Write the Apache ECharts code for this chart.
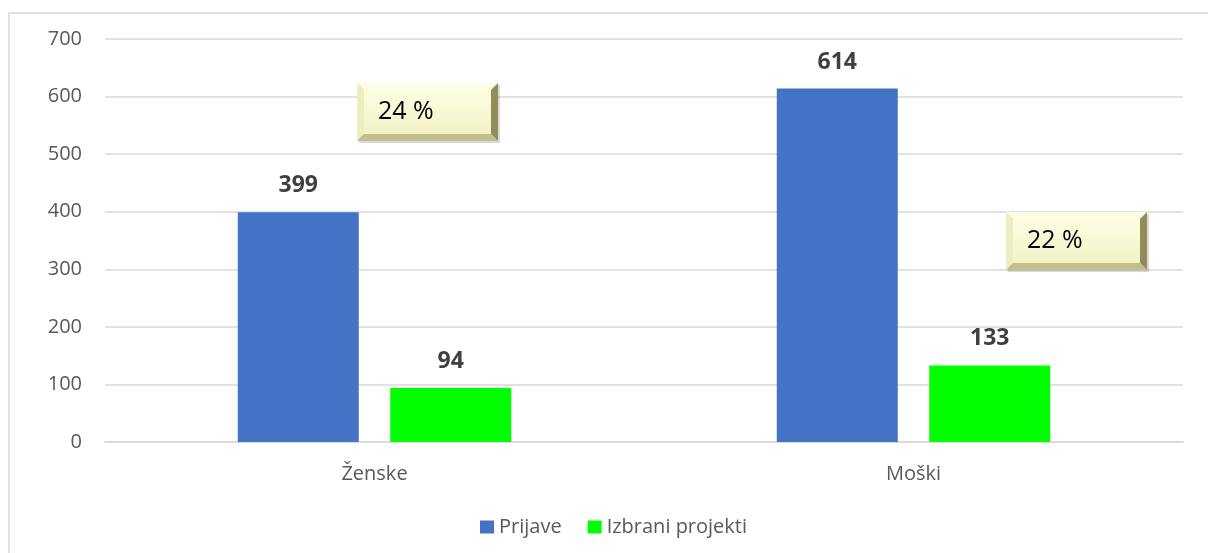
<!DOCTYPE html>
<html>
<head>
<meta charset="utf-8">
<script src="https://cdn.jsdelivr.net/npm/echarts@6/dist/echarts.min.js"></script>
<style>
  html, body { margin: 0; padding: 0; background: #fff; }
  #chart { width: 1208px; height: 553px; }
</style>
</head>
<body>
<div id="chart"></div>
<script>
const categories = ["Ženske", "Moški"];
const prijave = [399, 614];
const izbrani = [94, 133];
const shareLabels = ["24 %", "22 %"];
// where each share box sits: value on the y axis and x shift from the category centre
const shareAnchorY = [573, 349];
const shareShiftX = [53, 163];

const font = "Open Sans";

const chartDom = document.getElementById("chart");
const myChart = echarts.init(chartDom);

const valueLabel = {
  show: true,
  position: "top",
  distance: 15,
  fontFamily: font,
  fontSize: 23,
  fontWeight: "bold",
  color: "#404040",
};

const option = {
  animation: false,
  textStyle: { fontFamily: font },
  grid: { left: 105, right: 25, top: 39, bottom: 111, containLabel: false },
  legend: {
    top: 512,
    left: 475,
    icon: "rect",
    itemWidth: 14,
    itemHeight: 13,
    itemGap: 26,
    textStyle: { fontFamily: font, fontSize: 20, color: "#595959" },
    data: ["Prijave", "Izbrani projekti"],
  },
  xAxis: {
    type: "category",
    data: categories,
    axisLine: { lineStyle: { color: "#d9d9d9", width: 1.5 } },
    axisTick: { show: false },
    axisLabel: { fontFamily: font, fontSize: 20, color: "#595959", margin: 22 },
  },
  yAxis: {
    type: "value",
    min: 0,
    max: 700,
    interval: 100,
    axisLine: { show: false },
    axisTick: { show: false },
    axisLabel: { fontFamily: font, fontSize: 20, color: "#595959", margin: 23 },
    splitLine: { lineStyle: { color: "#d9d9d9", width: 1.5 } },
  },
  series: [
    {
      type: "bar",
      name: "Prijave",
      data: prijave,
      barWidth: 121,
      barGap: "26%",
      itemStyle: { color: "#4472c4" },
      label: valueLabel,
    },
    {
      type: "bar",
      name: "Izbrani projekti",
      data: izbrani,
      barWidth: 121,
      itemStyle: { color: "#00ff00" },
      label: valueLabel,
    },
  ],
};

myChart.setOption(option);

// bevelled share boxes + outer frame
function bevelBox(cx, cy, text) {
  const w = 141, h = 58, b = 7;
  const x0 = cx - w / 2, y0 = cy - h / 2, x1 = x0 + w, y1 = y0 + h;
  return {
    type: "group",
    children: [
      { type: "rect", shape: { x: x0 + 2, y: y0 + 2, width: w, height: h },
        style: { fill: "rgba(0,0,0,0.15)" } },
      { type: "polygon", shape: { points: [[x0, y0], [x1, y0], [x1 - b, y0 + b], [x0 + b, y0 + b]] },
        style: { fill: "#fdfde6" } },
      { type: "polygon", shape: { points: [[x0, y0], [x0 + b, y0 + b], [x0 + b, y1 - b], [x0, y1]] },
        style: { fill: "#eeedc0" } },
      { type: "polygon", shape: { points: [[x1, y0], [x1, y1], [x1 - b, y1 - b], [x1 - b, y0 + b]] },
        style: { fill: "#8f8d58" } },
      { type: "polygon", shape: { points: [[x0, y1], [x0 + b, y1 - b], [x1 - b, y1 - b], [x1, y1]] },
        style: { fill: "#c2c08a" } },
      { type: "rect", shape: { x: x0 + b, y: y0 + b, width: w - 2 * b, height: h - 2 * b },
        style: {
          fill: new echarts.graphic.LinearGradient(0, 0, 0, 1, [
            { offset: 0, color: "#fdfde2" },
            { offset: 1, color: "#f3f2c6" },
          ]),
        } },
      { type: "text", x: x0 + 21, y: cy,
        style: { text: text, fontFamily: font, fontSize: 25, fill: "#000", textVerticalAlign: "middle" } },
    ],
  };
}

const boxes = categories.map((c, i) => {
  const p = myChart.convertToPixel({ gridIndex: 0 }, [i, shareAnchorY[i]]);
  return bevelBox(p[0] + shareShiftX[i], p[1], shareLabels[i]);
});

myChart.setOption({
  graphic: [
    { type: "rect", shape: { x: 9, y: 13, width: 1220, height: 560 },
      style: { fill: null, stroke: "#d9d9d9", lineWidth: 1.5 }, silent: true },
    ...boxes,
  ],
});

window.addEventListener("resize", () => {
  myChart.resize();
});
</script>
</body>
</html>
